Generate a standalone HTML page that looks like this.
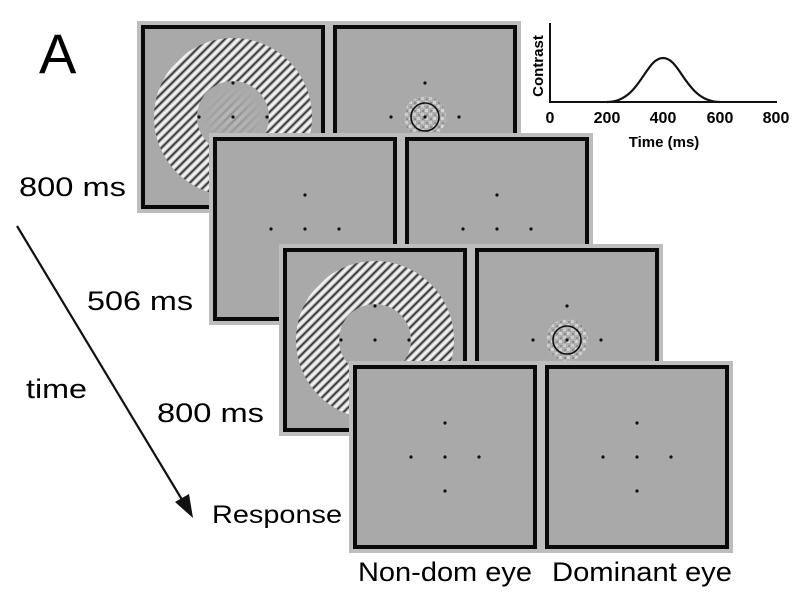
<!DOCTYPE html>
<html><head><meta charset="utf-8"><style>
html,body{margin:0;padding:0;background:#fff;}
svg{display:block;}
text{font-family:"Liberation Sans",Arial,sans-serif;}
</style></head><body>
<svg width="798" height="592" viewBox="0 0 798 592" xmlns="http://www.w3.org/2000/svg">
<defs>
  <linearGradient id="sg" x1="0" y1="0" x2="1" y2="0">
    <stop offset="0" stop-color="#fff"/>
    <stop offset="0.25" stop-color="#d0d0d0"/>
    <stop offset="0.5" stop-color="#1a1a1a"/>
    <stop offset="0.75" stop-color="#d0d0d0"/>
    <stop offset="1" stop-color="#fff"/>
  </linearGradient>
  <pattern id="gr" width="6.4" height="20" patternUnits="userSpaceOnUse" patternTransform="rotate(45)">
    <rect width="6.4" height="20" fill="url(#sg)"/>
  </pattern>
  <pattern id="gr2" width="6.4" height="20" patternUnits="userSpaceOnUse" patternTransform="rotate(45)">
    <rect width="6.4" height="20" fill="url(#sg)" opacity="0.25"/>
  </pattern>
  <radialGradient id="fade">
    <stop offset="0" stop-color="#fff" stop-opacity="1"/>
    <stop offset="1" stop-color="#fff" stop-opacity="0"/>
  </radialGradient>
  <mask id="fm"><circle cx="0" cy="0" r="30" fill="url(#fade)"/></mask>
  <pattern id="noise" width="8" height="8" patternUnits="userSpaceOnUse">
    <rect width="8" height="8" fill="#b0b0b0"/>
    <rect x="0" y="0" width="3" height="3" fill="#d8d8d8"/>
    <rect x="4" y="4" width="3" height="3" fill="#d0d0d0"/>
    <rect x="5" y="1" width="2" height="2" fill="#888"/>
    <rect x="1" y="5" width="2" height="2" fill="#909090"/>
  </pattern>

  <g id="dots">
    <circle cx="0" cy="-34" r="1.6" fill="#111"/>
    <circle cx="-34" cy="0" r="1.6" fill="#111"/>
    <circle cx="0" cy="0" r="1.6" fill="#111"/>
    <circle cx="34" cy="0" r="1.6" fill="#111"/>
    <circle cx="0" cy="34" r="1.6" fill="#111"/>
  </g>
  <g id="frame">
    <rect x="0" y="0" width="384" height="192" fill="#bdbdbd"/>
    <rect x="6" y="6" width="180" height="180" fill="#a9a9a9" stroke="#0a0a0a" stroke-width="4"/>
    <rect x="198" y="6" width="180" height="180" fill="#a9a9a9" stroke="#0a0a0a" stroke-width="4"/>
  </g>
  <g id="stim">
    <circle r="21" fill="url(#noise)" opacity="0.9"/>
    <circle r="14" fill="none" stroke="#111" stroke-width="1.6"/>
  </g>
</defs>

<g transform="translate(137,21)">
  <use href="#frame"/>
  <g transform="translate(96,96)">
    <path d="M-79,0 a79,79 0 1,0 158,0 a79,79 0 1,0 -158,0 Z M-36,0 a36,36 0 1,1 72,0 a36,36 0 1,1 -72,0 Z" fill-rule="evenodd" fill="url(#gr)"/>
    <circle r="30" fill="url(#gr2)" mask="url(#fm)"/>
    <use href="#dots"/>
  </g>
  <g transform="translate(288,96)">
    <use href="#stim"/>
    <use href="#dots"/>
  </g>
</g>

<g transform="translate(209,133)">
  <use href="#frame"/>
  <g transform="translate(96,96)"><use href="#dots"/></g>
  <g transform="translate(288,96)"><use href="#dots"/></g>
</g>

<g transform="translate(279,244)">
  <use href="#frame"/>
  <g transform="translate(96,96)">
    <path d="M-79,0 a79,79 0 1,0 158,0 a79,79 0 1,0 -158,0 Z M-36,0 a36,36 0 1,1 72,0 a36,36 0 1,1 -72,0 Z" fill-rule="evenodd" fill="url(#gr)"/>
    <use href="#dots"/>
  </g>
  <g transform="translate(288,96)">
    <use href="#stim"/>
    <use href="#dots"/>
  </g>
</g>

<g transform="translate(349,361)">
  <use href="#frame"/>
  <g transform="translate(96,96)"><use href="#dots"/></g>
  <g transform="translate(288,96)"><use href="#dots"/></g>
</g>

<g>
  <line x1="550" y1="23" x2="550" y2="103" stroke="#111" stroke-width="2"/>
  <line x1="549" y1="102" x2="777" y2="102" stroke="#111" stroke-width="2"/>
  <path d="M607,102 C640,102 645,58 663,58 C681,58 686,102 720,102" fill="none" stroke="#111" stroke-width="2.2"/>
  <text x="543" y="66" font-size="15" font-weight="bold" text-anchor="middle" transform="rotate(-90 543 66)">Contrast</text>
  <g font-size="16" font-weight="bold" text-anchor="middle">
    <text x="550" y="123">0</text>
    <text x="607" y="123">200</text>
    <text x="663" y="123">400</text>
    <text x="720" y="123">600</text>
    <text x="776" y="123">800</text>
    <text x="664" y="147" font-size="15">Time (ms)</text>
  </g>
</g>

<text x="39" y="73" font-size="56">A</text>
<text x="19" y="196" font-size="27" textLength="107" lengthAdjust="spacingAndGlyphs">800 ms</text>
<text x="87" y="310" font-size="27" textLength="106" lengthAdjust="spacingAndGlyphs">506 ms</text>
<text x="26" y="398" font-size="27" textLength="61" lengthAdjust="spacingAndGlyphs">time</text>
<text x="157" y="422" font-size="27" textLength="107" lengthAdjust="spacingAndGlyphs">800 ms</text>
<text x="212" y="523" font-size="25" textLength="130" lengthAdjust="spacingAndGlyphs">Response</text>
<text x="358" y="581" font-size="27" textLength="174" lengthAdjust="spacingAndGlyphs">Non-dom eye</text>
<text x="552" y="581" font-size="27" textLength="180" lengthAdjust="spacingAndGlyphs">Dominant eye</text>

<line x1="17" y1="226" x2="184" y2="503" stroke="#111" stroke-width="2.2"/>
<polygon points="193,518 175,502 189,494" fill="#111"/>
</svg>
</body></html>
